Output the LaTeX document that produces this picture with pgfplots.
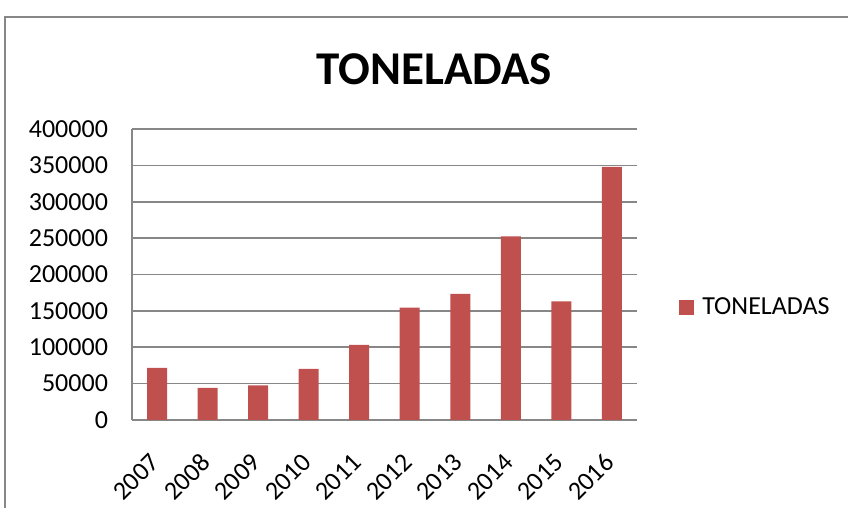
\documentclass[border=0pt]{standalone}
\usepackage{fontspec}
\setmainfont{Carlito}
\usepackage{pgfplots}
\pgfplotsset{compat=1.18}
\definecolor{barred}{HTML}{C0504D}
\definecolor{gridgray}{HTML}{878787}
\begin{document}
\begin{tikzpicture}
\useasboundingbox (-66pt,-44pt) rectangle (358pt,210pt);
\draw[gridgray, line width=1pt] (-63.5pt,-50pt) -- (-63.5pt,201.5pt) -- (365pt,201.5pt);
\begin{axis}[
  at={(0pt,0pt)}, anchor=south west,
  scale only axis,
  width=252.5pt, height=145.5pt,
  xmin=-0.5, xmax=9.5,
  ymin=0, ymax=400000,
  ytick={0,50000,100000,150000,200000,250000,300000,350000,400000},
  scaled y ticks=false,
  /pgf/number format/assume math mode=true,
  yticklabel style={/pgf/number format/fixed, /pgf/number format/1000 sep={}, font=\fontsize{13pt}{15pt}\selectfont, xshift=-8.5pt},
  xtick=data,
  xticklabels={2007,2008,2009,2010,2011,2012,2013,2014,2015,2016},
  xticklabel style={xshift=-1pt, yshift=-19pt, rotate=45, anchor=east, inner sep=0pt, font=\fontsize{13pt}{15pt}\selectfont},
  major tick length=0pt,
  axis lines=left,
  axis line style={-, draw=gridgray, line width=0.75pt},
  ymajorgrids,
  major grid style={draw=gridgray, line width=0.75pt},
  legend style={at={(1.083,0.385)}, anchor=west, draw=none, fill=none, font=\fontsize{13pt}{15pt}\selectfont, inner sep=0pt, column sep=2pt},
  legend image code/.code={\fill[#1] (0pt,-3.75pt) rectangle (7.5pt,3.75pt);},
]
\addplot[ybar, bar width=10pt, bar shift=0pt, fill=barred, draw=none] coordinates {
  (0,71800) (1,44300) (2,47500) (3,70400) (4,103300)
  (5,154500) (6,173200) (7,252300) (8,163200) (9,347800)
};
\addlegendentry{TONELADAS}
\end{axis}
\node[anchor=base, font=\fontsize{23.5pt}{26pt}\selectfont\bfseries] at (151.25pt,167.5pt) {TONELADAS};
\end{tikzpicture}
\end{document}
